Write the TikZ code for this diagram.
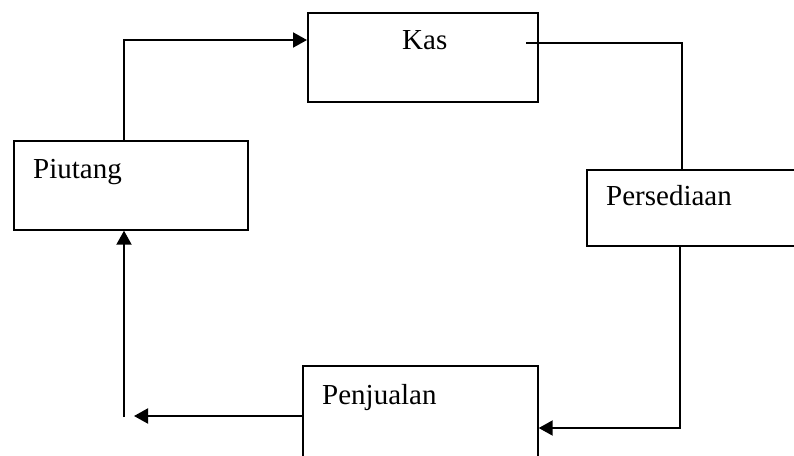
\documentclass[tikz,border=0pt]{standalone}
\usepackage{fontspec}
\setmainfont{Liberation Serif}
\usetikzlibrary{arrows.meta,calc}
\begin{document}
\begin{tikzpicture}[x=1pt,y=-1pt,
  box/.style={draw,line width=1.7pt,rectangle,inner sep=0pt,anchor=north west},
  lbl/.style={anchor=base west,inner sep=0pt,font=\fontsize{29}{32}\selectfont},
  conn/.style={line width=2pt},
  arr/.style={conn,-{Triangle[length=14pt,width=15pt]}}]
\clip (0,0) rectangle (794,455);
\fill[white] (0,0) rectangle (794,455);
% boxes
\node[box,minimum width=230pt,minimum height=89pt] (kas) at (307,12) {};
\node[box,minimum width=234pt,minimum height=89pt] (piutang) at (13,140) {};
\node[box,minimum width=240pt,minimum height=76pt] (pers) at (586,169) {};
\node[box,minimum width=235pt,minimum height=120pt] (penj) at (302,365) {};
% labels
\node[lbl] (kasT) at (402,49) {Kas};
\node[lbl] (piutangT) at (33,178) {Piutang};
\node[lbl] (persT) at (606,205) {Persediaan};
\node[lbl] (penjT) at (322,404) {Penjualan};
% connectors
\draw[arr] ($(piutang.north west)+(111,0)$) |- ($(kas.north west)+(0,28)$);
\draw[conn] ($(kas.north west)+(219,31)$) -| ($(pers.north west)+(96,0)$);
\draw[arr] ($(pers.south west)+(94,0)$) |- ($(penj.north east)+(0,63)$);
\coordinate (e1) at (134,416);
\coordinate (s1) at (124,417);
\draw[arr] ($(penj.north west)+(0,51)$) -- (e1);
\draw[arr] (s1) -- ($(piutang.south west)+(111,0)$);
\end{tikzpicture}
\end{document}
